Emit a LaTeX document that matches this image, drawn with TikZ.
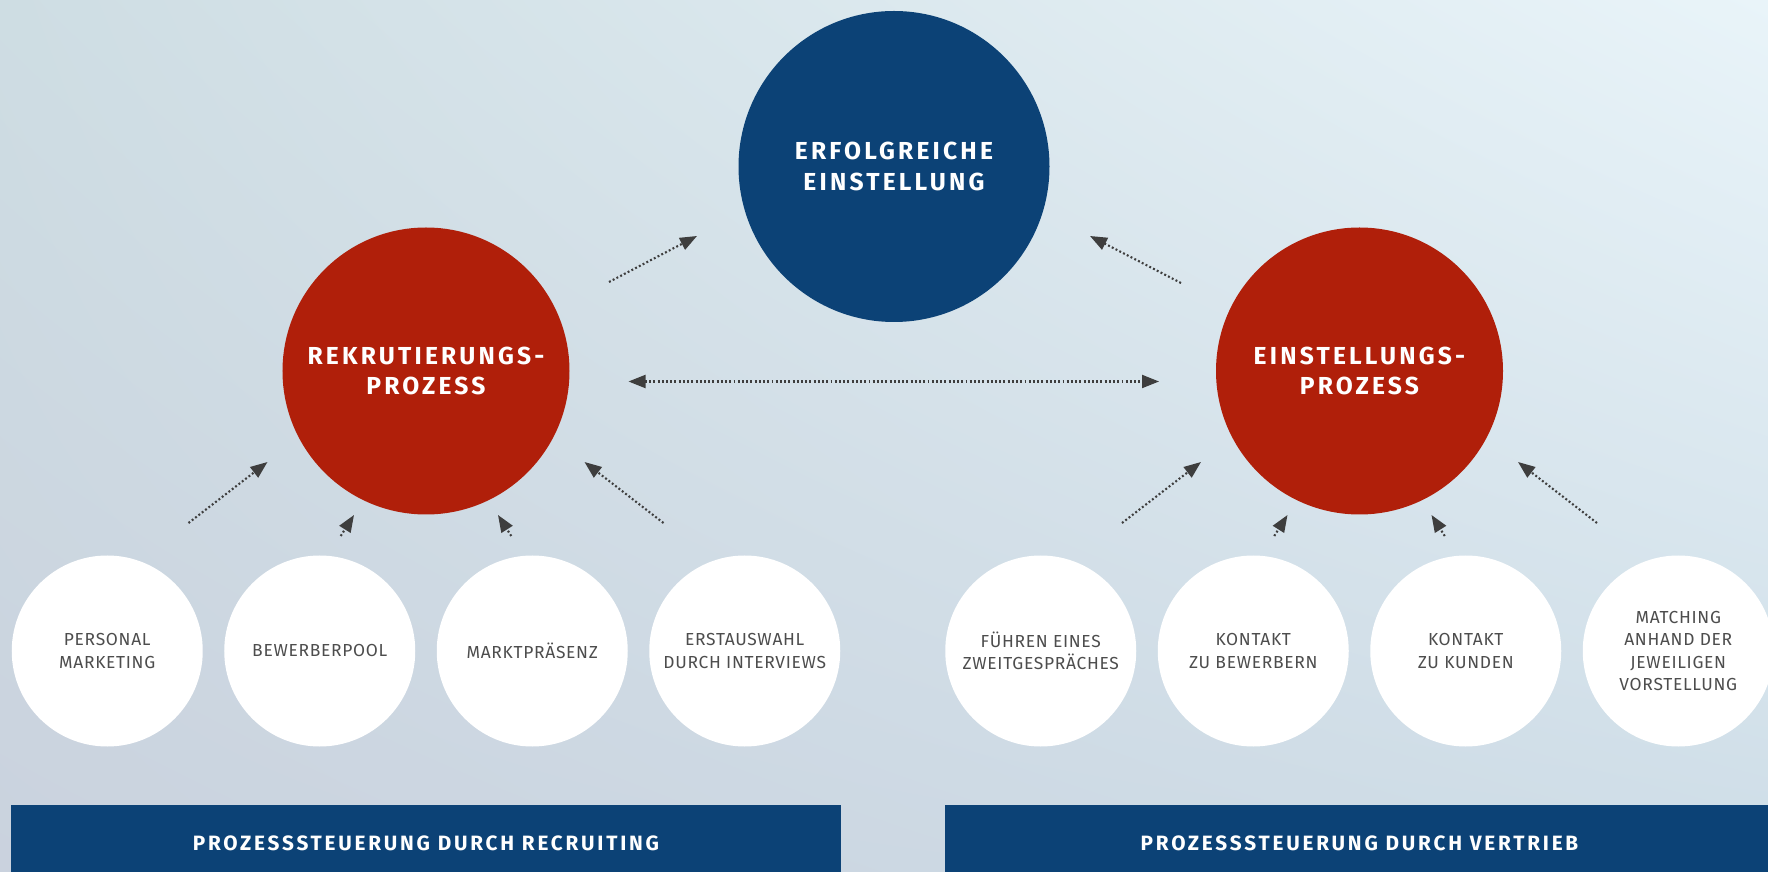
\documentclass[tikz,border=0pt]{standalone}
\usepackage{fontspec}
\setmainfont{Fira Sans}
\newfontfamily\headfont[LetterSpace=13]{Fira Sans}
\newfontfamily\barfont[LetterSpace=13.5]{Fira Sans}
\newfontfamily\taskfont[LetterSpace=4]{Fira Sans}
\usepackage{tikz}
\usetikzlibrary{arrows.meta,shapes,calc,positioning,shadings}
\definecolor{darkblue}{RGB}{12,66,118}
\definecolor{darkred}{RGB}{176,31,10}
\definecolor{arrowgray}{RGB}{62,62,62}
\definecolor{textgray}{RGB}{77,77,77}
\definecolor{bgul}{RGB}{206,221,227}
\definecolor{bgur}{RGB}{233,244,249}
\definecolor{bgll}{RGB}{202,210,222}
\definecolor{bglr}{RGB}{206,221,231}
\tikzstyle{link}=[draw, -{Triangle[length=0.34cm,width=0.26cm]},
  line width=1.2pt, dash pattern=on 1.1pt off 1.3pt, arrowgray]
\tikzstyle{twolink}=[link, {Triangle[length=0.34cm,width=0.26cm]}-{Triangle[length=0.34cm,width=0.26cm]}]
\tikzstyle{goal} =
  [circle, fill=darkblue, text=white, minimum size=6.22cm, inner sep=0pt,
   align=center, font=\headfont\bfseries\fontsize{14}{17.1}\selectfont]
\tikzstyle{process} =
  [circle, fill=darkred, text=white, minimum size=5.74cm, inner sep=0pt,
   align=center, font=\headfont\bfseries\fontsize{14}{17.1}\selectfont]
\tikzstyle{task} =
  [circle, fill=white, text=textgray, minimum size=3.82cm, inner sep=0pt,
   align=center, font=\taskfont\fontsize{9.9}{12.6}\selectfont]
\tikzstyle{bar} =
  [rectangle, fill=darkblue, text=white, minimum width=16.59cm,
   minimum height=1.52cm, inner sep=0pt, font=\barfont\bfseries\fontsize{11.8}{14}\selectfont]

\begin{document}
\begin{tikzpicture}
  \clip (-8.52,-10.02) rectangle (26.84,7.42);
  \shade [upper left=bgul, upper right=bgur, lower left=bgll, lower right=bglr]
    (-8.52,-10.02) rectangle (26.84,7.42);

  \node [process] (rek) at (0,0) {REKRUTIERUNGS-\\PROZESS};
  \node [goal, above of=rek, node distance=4.09cm, xshift=9.36cm] (erf) {ERFOLGREICHE\\EINSTELLUNG};
  \node [process, right of=rek, node distance=18.67cm] (eins) {EINSTELLUNGS-\\PROZESS};

  \node [task, below of=rek, node distance=5.6cm, xshift=-6.375cm] (pm) {PERSONAL\\MARKETING};
  \node [task, below of=rek, node distance=5.6cm, xshift=-2.125cm] (bp) {BEWERBERPOOL};
  \node [task, below of=rek, node distance=5.6cm, xshift=2.125cm] (mp) {MARKTPRÄSENZ};
  \node [task, below of=rek, node distance=5.6cm, xshift=6.375cm] (ea) {ERSTAUSWAHL\\DURCH INTERVIEWS};

  \node [task, below of=eins, node distance=5.6cm, xshift=-6.375cm] (fz) {FÜHREN EINES\\ZWEITGESPRÄCHES};
  \node [task, below of=eins, node distance=5.6cm, xshift=-2.125cm] (kb) {KONTAKT\\ZU BEWERBERN};
  \node [task, below of=eins, node distance=5.6cm, xshift=2.125cm] (kk) {KONTAKT\\ZU KUNDEN};
  \node [task, below of=eins, node distance=5.6cm, xshift=6.375cm] (ma) {MATCHING\\ANHAND DER\\JEWEILIGEN\\VORSTELLUNG};

  \node [bar, below of=rek, node distance=9.44cm] (br) {PROZESSSTEUERUNG DURCH RECRUITING};
  \node [bar, below of=eins, node distance=9.44cm] (bv) {PROZESSSTEUERUNG DURCH VERTRIEB};

  \draw [link] ([shift={(1.625,2.56)}]pm.center) -- ([shift={(-3.17,-1.82)}]rek.center);
  \draw [link] ([shift={(0.42,2.30)}]bp.center) -- ([shift={(-1.44,-2.88)}]rek.center);
  \draw [link] ([shift={(-0.42,2.30)}]mp.center) -- ([shift={(1.44,-2.88)}]rek.center);
  \draw [link] ([shift={(-1.625,2.56)}]ea.center) -- ([shift={(3.17,-1.82)}]rek.center);

  \draw [link] ([shift={(1.625,2.56)}]fz.center) -- ([shift={(-3.17,-1.82)}]eins.center);
  \draw [link] ([shift={(0.42,2.30)}]kb.center) -- ([shift={(-1.44,-2.88)}]eins.center);
  \draw [link] ([shift={(-0.42,2.30)}]kk.center) -- ([shift={(1.44,-2.88)}]eins.center);
  \draw [link] ([shift={(-1.625,2.56)}]ma.center) -- ([shift={(3.17,-1.82)}]eins.center);

  \draw [link] ([shift={(3.66,1.78)}]rek.center) -- ([shift={(-3.94,-1.39)}]erf.center);
  \draw [link] ([shift={(-3.57,1.76)}]eins.center) -- ([shift={(3.92,-1.39)}]erf.center);
  \draw [twolink] ([shift={(4.05,-0.21)}]rek.center) -- ([shift={(-4.01,-0.21)}]eins.center);
\end{tikzpicture}
\end{document}
